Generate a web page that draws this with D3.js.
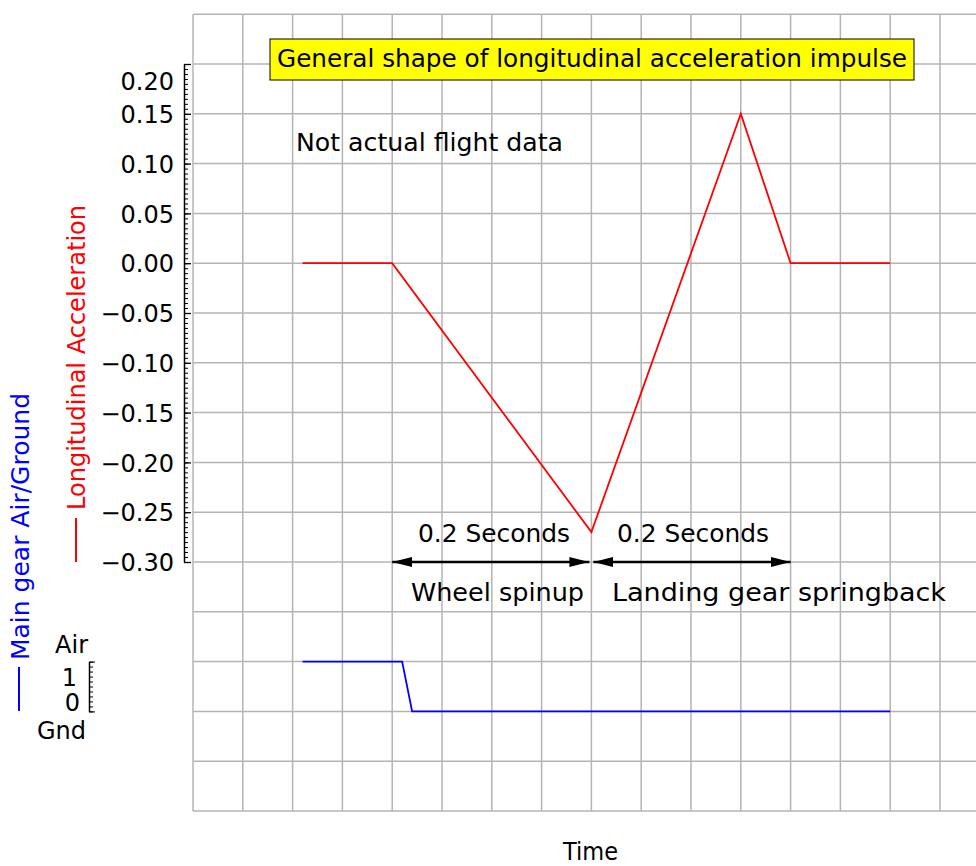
<!DOCTYPE html>
<html>
<head>
<meta charset="utf-8">
<script src="https://cdn.jsdelivr.net/npm/d3@7"></script>
<style>
  body { margin: 0; background: #fff; }
  svg { display: block; font-family: "DejaVu Sans", sans-serif; }
</style>
</head>
<body>
<svg id="chart"></svg>
<script>
// longitudinal acceleration (g) vs time (s)
var accTime  = [0.11, 0.20, 0.40, 0.55, 0.60, 0.70];
var accValue = [0, 0, -0.27, 0.15, 0, 0];
// main gear air/ground discrete (1 = air, 0 = gnd)
var gearTime  = [0.11, 0.21, 0.22, 0.70];
var gearValue = [1, 1, 0, 0];
// the two 0.2 s phases
var phaseStart = [0.20, 0.40];
var phaseEnd   = [0.40, 0.60];
var phaseLabel = ["0.2 Seconds", "0.2 Seconds"];
var phaseName  = ["Wheel spinup", "Landing gear springback"];
// tick values
var accTicks  = d3.range(-0.30, 0.2001, 0.05);
var accMinor  = d3.range(-0.30, 0.2001, 0.005);
var gearTicks = [0, 1];
var gearMinor = d3.range(0, 1.001, 0.1);
var gridTimes = d3.range(0, 0.7501, 0.05);
var gridAcc   = d3.range(-0.55, 0.2501, 0.05);

var screen = { width: 976, height: 866 };

var svg = d3.select('#chart')
  .attr('width', screen.width)
  .attr('height', screen.height);

var xT = d3.scaleLinear().domain([0, 0.8]).range([193, 989.8]);
var yAcc = d3.scaleLinear().domain([-0.30, 0.20]).range([562, 64]);
var yGear = d3.scaleLinear().domain([0, 1]).range([yAcc(-0.45), yAcc(-0.40)]);

// grid
var grid = svg.append('g').attr('class', 'grid')
  .attr('stroke', '#b4b4b4').attr('stroke-width', 1.5);
grid.selectAll('line.v').data(gridTimes).enter().append('line')
  .attr('class', 'v')
  .attr('x1', function(d) { return xT(d); })
  .attr('x2', function(d) { return xT(d); })
  .attr('y1', yAcc(0.25)).attr('y2', yAcc(-0.55));
grid.selectAll('line.h').data(gridAcc).enter().append('line')
  .attr('class', 'h')
  .attr('x1', xT(0)).attr('x2', screen.width)
  .attr('y1', function(d) { return yAcc(d); })
  .attr('y2', function(d) { return yAcc(d); });

// title box
svg.append('rect')
  .attr('x', 270).attr('y', 39).attr('width', 644).attr('height', 41)
  .attr('fill', '#ffff00').attr('stroke', '#000').attr('stroke-width', 1);
svg.append('text')
  .attr('x', 277).attr('y', 67)
  .attr('font-size', 24)
  .attr('textLength', 630).attr('lengthAdjust', 'spacingAndGlyphs')
  .text('General shape of longitudinal acceleration impulse');

svg.append('text')
  .attr('x', 296).attr('y', 151)
  .attr('font-size', 24)
  .attr('textLength', 267).attr('lengthAdjust', 'spacingAndGlyphs')
  .text('Not actual flight data');

// main y axis
var accAxis = d3.axisLeft(yAcc)
  .tickValues(accTicks)
  .tickFormat(d3.format('.2f'))
  .tickSizeInner(-7).tickSizeOuter(0).tickPadding(10);
var ax = svg.append('g').attr('transform', 'translate(184,0)').call(accAxis);
ax.selectAll('text')
  .attr('font-size', 24).attr('font-family', '"DejaVu Sans", sans-serif')
  .attr('fill', '#000')
  .attr('dy', function(d) { return Math.abs(d - 0.2) < 1e-6 ? '1.05em' : '0.36em'; });
ax.select('.domain').attr('stroke-width', 1.5);
ax.selectAll('.tick line').attr('stroke-width', 1.3);
var accMinorAxis = d3.axisLeft(yAcc)
  .tickValues(accMinor).tickFormat('')
  .tickSizeInner(-4).tickSizeOuter(0);
svg.append('g').attr('transform', 'translate(184,0)').call(accMinorAxis)
  .call(function(g) { g.select('.domain').remove(); });

// gear axis
var gearAxis = d3.axisLeft(yGear)
  .tickValues(gearTicks).tickFormat('')
  .tickSizeInner(-6).tickSizeOuter(0);
var gx = svg.append('g').attr('transform', 'translate(89,0)').call(gearAxis);
gx.select('.domain').attr('stroke-width', 1.5);
var gearMinorAxis = d3.axisLeft(yGear)
  .tickValues(gearMinor).tickFormat('')
  .tickSizeInner(-4).tickSizeOuter(0);
svg.append('g').attr('transform', 'translate(89,0)').call(gearMinorAxis)
  .call(function(g) { g.select('.domain').remove(); });

var gearLabels = svg.append('g').attr('font-size', 24).attr('text-anchor', 'end');
gearLabels.append('text').attr('x', 88).attr('y', yGear(1) - 9).text('Air');
gearLabels.append('text').attr('x', 77).attr('y', yGear(1) + 24).text('1');
gearLabels.append('text').attr('x', 80).attr('y', yGear(0)).text('0');
gearLabels.append('text').attr('x', 86).attr('y', yGear(0) + 28).text('Gnd');

// axis titles
svg.append('line')
  .attr('x1', 76).attr('x2', 76).attr('y1', 518).attr('y2', 562)
  .attr('stroke', 'red').attr('stroke-width', 2);
svg.append('text')
  .attr('transform', 'translate(85,510) rotate(-90)')
  .attr('font-size', 24).attr('fill', 'red')
  .attr('textLength', 305).attr('lengthAdjust', 'spacingAndGlyphs')
  .text('Longitudinal Acceleration');
svg.append('line')
  .attr('x1', 19).attr('x2', 19).attr('y1', 667).attr('y2', 711)
  .attr('stroke', 'blue').attr('stroke-width', 2);
svg.append('text')
  .attr('transform', 'translate(29,660) rotate(-90)')
  .attr('font-size', 24).attr('fill', 'blue')
  .attr('textLength', 267).attr('lengthAdjust', 'spacingAndGlyphs')
  .text('Main gear Air/Ground');

svg.append('text')
  .attr('x', 563).attr('y', 860)
  .attr('font-size', 24)
  .attr('textLength', 55).attr('lengthAdjust', 'spacingAndGlyphs')
  .text('Time');

// data lines
var accLine = d3.line()
  .x(function(d, i) { return xT(accTime[i]); })
  .y(function(d) { return yAcc(d); });
svg.append('path').datum(accValue)
  .attr('d', accLine)
  .attr('fill', 'none').attr('stroke', 'red').attr('stroke-width', 1.8);

var gearLine = d3.line()
  .x(function(d, i) { return xT(gearTime[i]); })
  .y(function(d) { return yGear(d); });
svg.append('path').datum(gearValue)
  .attr('d', gearLine)
  .attr('fill', 'none').attr('stroke', 'blue').attr('stroke-width', 1.8);

// arrows
var defs = svg.append('defs');
defs.append('marker').attr('id', 'ahEnd')
  .attr('markerUnits', 'userSpaceOnUse')
  .attr('viewBox', '0 0 20 12').attr('refX', 20).attr('refY', 6)
  .attr('markerWidth', 20).attr('markerHeight', 12).attr('orient', 'auto')
  .append('path').attr('d', 'M0,1 L20,6 L0,11 Z').attr('fill', '#000');
defs.append('marker').attr('id', 'ahStart')
  .attr('markerUnits', 'userSpaceOnUse')
  .attr('viewBox', '0 0 20 12').attr('refX', 0).attr('refY', 6)
  .attr('markerWidth', 20).attr('markerHeight', 12).attr('orient', 'auto')
  .append('path').attr('d', 'M20,1 L0,6 L20,11 Z').attr('fill', '#000');

var arrowY = yAcc(-0.30);
var phases = svg.selectAll('g.phase')
  .data(phaseStart)
  .enter().append('g').attr('class', 'phase');
phases.append('line')
  .attr('x1', function(d, i) { return xT(d) + (i === 0 ? 0 : 2); })
  .attr('x2', function(d, i) { return xT(phaseEnd[i]) - (i === 0 ? 2 : 0); })
  .attr('y1', arrowY).attr('y2', arrowY)
  .attr('stroke', '#000').attr('stroke-width', 2.4)
  .attr('marker-start', 'url(#ahStart)')
  .attr('marker-end', 'url(#ahEnd)');
phases.append('text')
  .attr('x', function(d, i) { return i === 0 ? 418 : 617; })
  .attr('y', arrowY - 20)
  .attr('font-size', 24)
  .attr('textLength', 152).attr('lengthAdjust', 'spacingAndGlyphs')
  .text(function(d, i) { return phaseLabel[i]; });
phases.append('text')
  .attr('x', function(d, i) { return i === 0 ? 411 : 612; })
  .attr('y', arrowY + 39)
  .attr('font-size', 24)
  .attr('textLength', function(d, i) { return i === 0 ? 173 : 334; })
  .attr('lengthAdjust', 'spacingAndGlyphs')
  .text(function(d, i) { return phaseName[i]; });
</script>
</body>
</html>
